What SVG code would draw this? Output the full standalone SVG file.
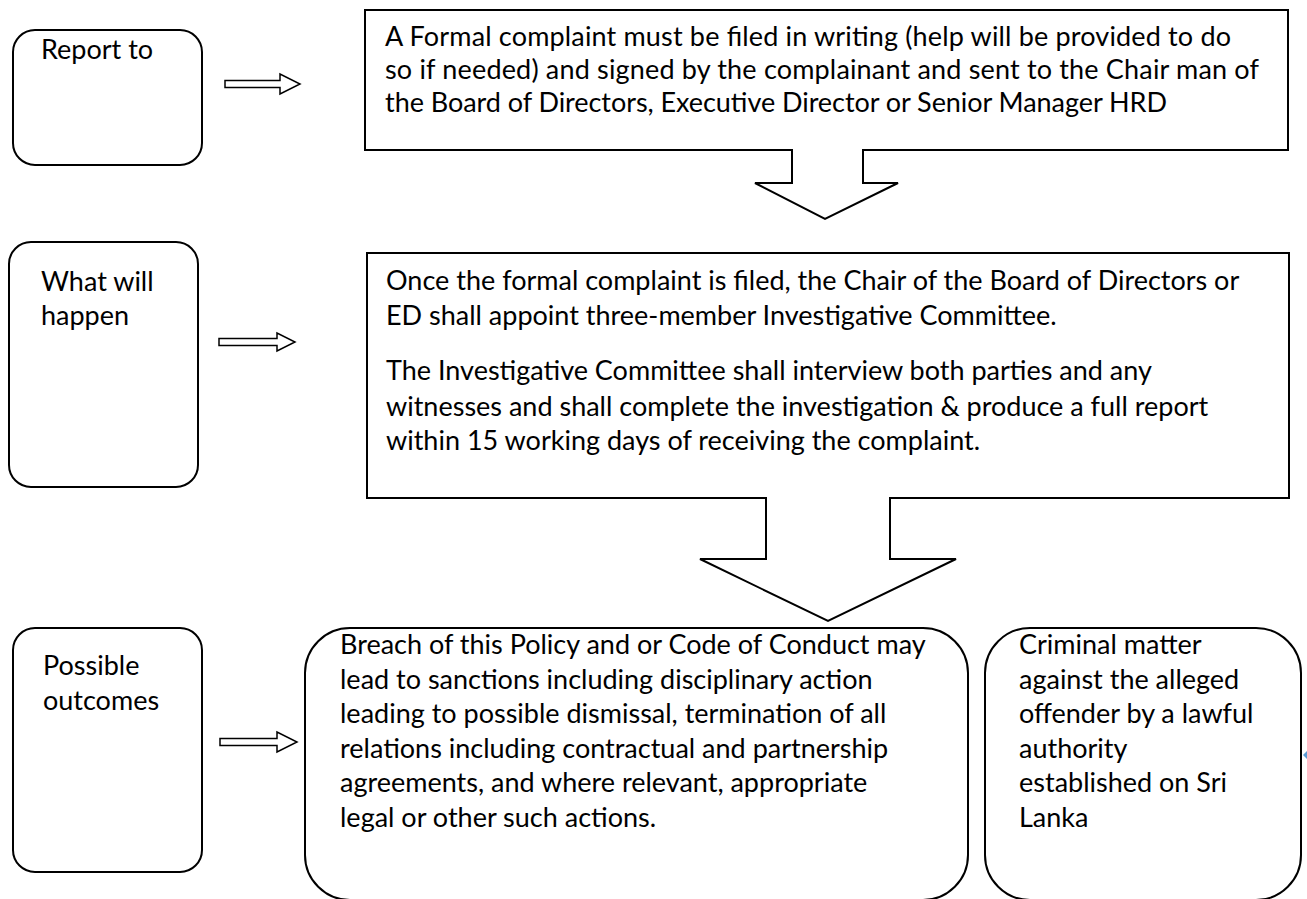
<svg xmlns="http://www.w3.org/2000/svg" width="1307" height="899" viewBox="0 0 1307 899">
<style>
.box{fill:#fff;stroke:#000;stroke-width:2}
.arr{fill:#fff;stroke:#000;stroke-width:1.5;stroke-linejoin:miter}
.t{font-family:Lato,"Liberation Sans",sans-serif;font-size:27px;fill:#000}
</style>
<rect width="1307" height="899" fill="#fff"/>
<g id="label-report">
<rect class="box" x="13" y="30" width="189" height="135" rx="22"/>
<text class="t" x="41" y="59">Report to</text>
</g>
<g id="label-what">
<rect class="box" x="9" y="242" width="189" height="245" rx="22"/>
<text class="t" x="41" y="291">What will</text>
<text class="t" x="41" y="325">happen</text>
</g>
<g id="label-outcomes">
<rect class="box" x="13" y="628" width="189" height="244" rx="22"/>
<text class="t" x="43" y="675">Possible</text>
<text class="t" x="43" y="710">outcomes</text>
</g>
<g id="connectors">
<polygon class="arr" points="225,80.5 280,80.5 280,74 300,84 280,94 280,87.5 225,87.5"/>
<polygon class="arr" points="219,338.5 277,338.5 277,333 295,342 277,351 277,345.5 219,345.5"/>
<polygon class="arr" points="220,738.5 277,738.5 277,732 297,742 277,752 277,745.5 220,745.5"/>
<polygon points="1307,751 1303,755 1307,759" fill="#5B9BD5"/>
</g>
<g id="step-file">
<polygon class="box" points="365,10 1288,10 1288,150 863,150 863,183 898,183 825,219 755,183 792,183 792,150 365,150"/>
<text class="t" x="385" y="46" textLength="846">A Formal complaint must be filed in writing (help will be provided to do</text>
<text class="t" x="385" y="79" textLength="874">so if needed) and signed by the complainant and sent to the Chair man of</text>
<text class="t" x="385" y="112" textLength="782">the Board of Directors, Executive Director or Senior Manager HRD</text>
</g>
<g id="step-investigate">
<polygon class="box" points="367,253 1289,253 1289,498 890,498 890,559 956,559 828,621 700,559 766,559 766,498 367,498"/>
<text class="t" x="386" y="290">Once the formal complaint is filed, the Chair of the Board of Directors or</text>
<text class="t" x="386" y="325">ED shall appoint three-member Investigative Committee.</text>
<text class="t" x="386" y="380">The Investigative Committee shall interview both parties and any</text>
<text class="t" x="386" y="416">witnesses and shall complete the investigation &amp; produce a full report</text>
<text class="t" x="386" y="450">within 15 working days of receiving the complaint.</text>
</g>
<g id="outcome-sanctions">
<rect class="box" x="305" y="628" width="663" height="272" rx="45"/>
<text class="t" x="340" y="654">Breach of this Policy and or Code of Conduct may</text>
<text class="t" x="340" y="689">lead to sanctions including disciplinary action</text>
<text class="t" x="340" y="723">leading to possible dismissal, termination of all</text>
<text class="t" x="340" y="758">relations including contractual and partnership</text>
<text class="t" x="340" y="792">agreements, and where relevant, appropriate</text>
<text class="t" x="340" y="827">legal or other such actions.</text>
</g>
<g id="outcome-criminal">
<rect class="box" x="985" y="628" width="316" height="272" rx="45"/>
<text class="t" x="1019" y="654">Criminal matter</text>
<text class="t" x="1019" y="689">against the alleged</text>
<text class="t" x="1019" y="723">offender by a lawful</text>
<text class="t" x="1019" y="758">authority</text>
<text class="t" x="1019" y="792">established on Sri</text>
<text class="t" x="1019" y="827">Lanka</text>
</g>
</svg>
